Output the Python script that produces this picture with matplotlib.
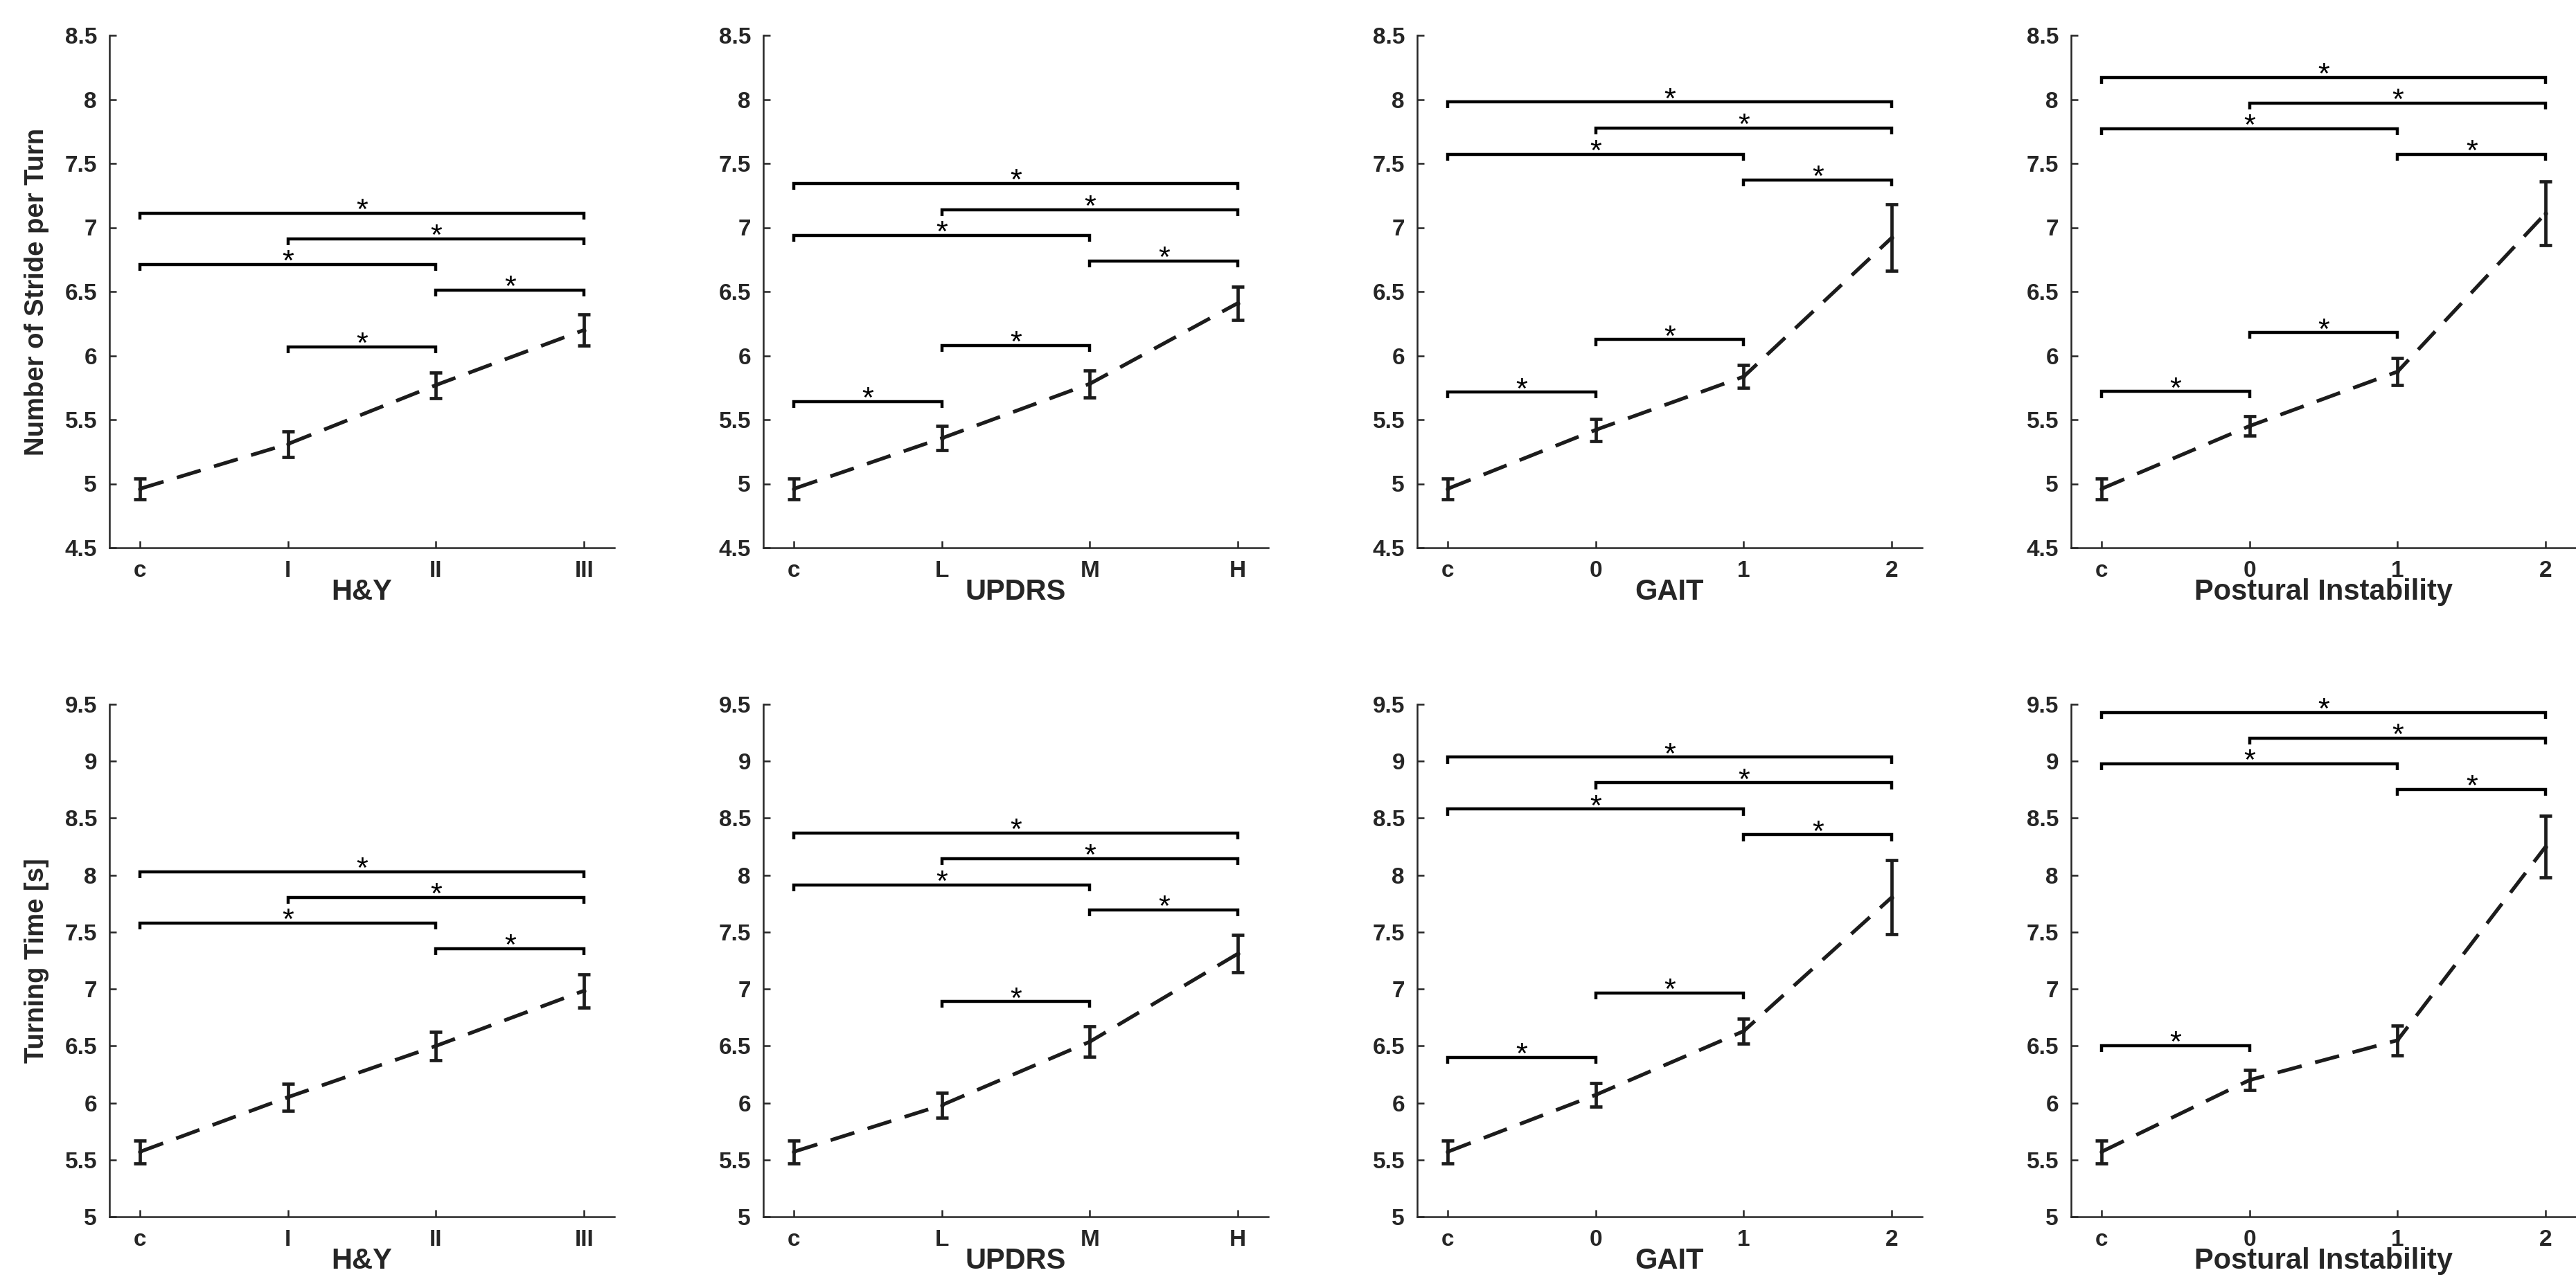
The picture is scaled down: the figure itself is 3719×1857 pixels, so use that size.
import matplotlib
matplotlib.use("Agg")
import matplotlib.pyplot as plt
import numpy as np

# ---------------- data ----------------
x_hy = ['c', 'I', 'II', 'III']
x_updrs = ['c', 'L', 'M', 'H']
x_gait = ['c', '0', '1', '2']
x_pi = ['c', '0', '1', '2']
xlabels = ['H&Y', 'UPDRS', 'GAIT', 'Postural Instability']

# Row 1: Number of Stride per Turn
stride_hy_mean = [4.96, 5.31, 5.77, 6.20]
stride_hy_err = [0.08, 0.10, 0.10, 0.12]
stride_updrs_mean = [4.96, 5.355, 5.78, 6.41]
stride_updrs_err = [0.08, 0.094, 0.105, 0.13]
stride_gait_mean = [4.96, 5.42, 5.836, 6.92]
stride_gait_err = [0.08, 0.087, 0.089, 0.26]
stride_pi_mean = [4.96, 5.45, 5.875, 7.11]
stride_pi_err = [0.08, 0.076, 0.105, 0.25]

stride_hy_pairs = [(0, 3), (1, 3), (0, 2), (2, 3), (1, 2)]
stride_hy_levels = [7.11, 6.91, 6.71, 6.51, 6.07]
stride_updrs_pairs = [(0, 3), (1, 3), (0, 2), (2, 3), (1, 2), (0, 1)]
stride_updrs_levels = [7.345, 7.14, 6.94, 6.74, 6.08, 5.64]
stride_gait_pairs = [(0, 3), (1, 3), (0, 2), (2, 3), (1, 2), (0, 1)]
stride_gait_levels = [7.98, 7.775, 7.57, 7.37, 6.125, 5.715]
stride_pi_pairs = [(0, 3), (1, 3), (0, 2), (2, 3), (1, 2), (0, 1)]
stride_pi_levels = [8.17, 7.97, 7.77, 7.57, 6.18, 5.72]

# Row 2: Turning Time [s]
time_hy_mean = [5.57, 6.05, 6.50, 6.985]
time_hy_err = [0.10, 0.118, 0.126, 0.146]
time_updrs_mean = [5.57, 5.98, 6.537, 7.31]
time_updrs_err = [0.10, 0.11, 0.135, 0.162]
time_gait_mean = [5.57, 6.07, 6.63, 7.805]
time_gait_err = [0.10, 0.104, 0.107, 0.326]
time_pi_mean = [5.57, 6.20, 6.55, 8.25]
time_pi_err = [0.10, 0.087, 0.131, 0.273]

time_hy_pairs = [(0, 3), (1, 3), (0, 2), (2, 3)]
time_hy_levels = [8.03, 7.805, 7.58, 7.355]
time_updrs_pairs = [(0, 3), (1, 3), (0, 2), (2, 3), (1, 2)]
time_updrs_levels = [8.37, 8.145, 7.915, 7.695, 6.89]
time_gait_pairs = [(0, 3), (1, 3), (0, 2), (2, 3), (1, 2), (0, 1)]
time_gait_levels = [9.035, 8.81, 8.58, 8.355, 6.965, 6.40]
time_pi_pairs = [(0, 3), (1, 3), (0, 2), (2, 3), (0, 1)]
time_pi_levels = [9.43, 9.205, 8.98, 8.755, 6.505]

stride_yticks = [4.5, 5, 5.5, 6, 6.5, 7, 7.5, 8, 8.5]
time_yticks = [5, 5.5, 6, 6.5, 7, 7.5, 8, 8.5, 9, 9.5]
ylabels = ['Number of Stride per Turn', 'Turning Time [s]']

# ---------------- style ----------------
TXT = '#262626'
LINE = '#1c1c1c'
FONT = ['Liberation Sans', 'DejaVu Sans']
plt.rcParams['font.family'] = FONT

fig = plt.figure(figsize=(37.19, 18.57), dpi=100)
W, H = 3719.0, 1857.0
col_left = [158, 1102, 2046, 2990]
ax_w = 729
row_top = [51, 1017]
ax_h = 740

rows = [
    dict(means=[stride_hy_mean, stride_updrs_mean, stride_gait_mean, stride_pi_mean],
         errs=[stride_hy_err, stride_updrs_err, stride_gait_err, stride_pi_err],
         pairs=[stride_hy_pairs, stride_updrs_pairs, stride_gait_pairs, stride_pi_pairs],
         levels=[stride_hy_levels, stride_updrs_levels, stride_gait_levels, stride_pi_levels],
         yticks=stride_yticks),
    dict(means=[time_hy_mean, time_updrs_mean, time_gait_mean, time_pi_mean],
         errs=[time_hy_err, time_updrs_err, time_gait_err, time_pi_err],
         pairs=[time_hy_pairs, time_updrs_pairs, time_gait_pairs, time_pi_pairs],
         levels=[time_hy_levels, time_updrs_levels, time_gait_levels, time_pi_levels],
         yticks=time_yticks),
]
xcats = [x_hy, x_updrs, x_gait, x_pi]

for r, row in enumerate(rows):
    for c in range(4):
        ax = fig.add_axes([col_left[c] / W, 1 - (row_top[r] + ax_h) / H, ax_w / W, ax_h / H])
        cats = xcats[c]
        xs = np.arange(len(cats))
        yt = row['yticks']
        ymin, ymax = yt[0], yt[-1]
        ax.set_xlim(-0.205, len(cats) - 1 + 0.205)
        ax.set_ylim(ymin, ymax)

        ax.errorbar(xs, row['means'][c], yerr=row['errs'][c], color=LINE,
                    linestyle=(0, (6.8, 3.8)), linewidth=3.8, elinewidth=3.4,
                    capsize=6.5, capthick=3.4, marker='o', markersize=3.5, zorder=3)

        dd = 0.0125 * (ymax - ymin)
        for (i, j), lev in zip(row['pairs'][c], row['levels'][c]):
            ax.plot([xs[i], xs[i], xs[j], xs[j]], [lev - dd, lev, lev, lev - dd],
                    color='black', linewidth=3.2, solid_joinstyle='miter',
                    solid_capstyle='butt', zorder=4)
            ax.annotate('*', xy=((xs[i] + xs[j]) / 2, lev), xytext=(0, -6),
                        textcoords='offset points', ha='center', va='baseline',
                        fontsize=31, color='black', zorder=5, family=FONT)

        ax.set_xticks(xs)
        ax.set_xticklabels(cats)
        ax.set_yticks(yt)
        ax.set_yticklabels(['%g' % v for v in yt])
        for s in ['top', 'right']:
            ax.spines[s].set_visible(False)
        for s in ['left', 'bottom']:
            ax.spines[s].set_linewidth(1.8)
            ax.spines[s].set_color(TXT)
        ax.tick_params(direction='in', length=7, width=1.8, color=TXT,
                       labelsize=24, labelcolor=TXT, pad=13)
        for lab in ax.get_xticklabels() + ax.get_yticklabels():
            lab.set_fontweight('bold')
        ax.set_xlabel(xlabels[c], fontsize=30, fontweight='bold', color=TXT)
        ax.xaxis.set_label_coords(0.5, -0.06)
        if c == 0:
            ax.set_ylabel(ylabels[r], fontsize=27.5, fontweight='bold', color=TXT)
            ax.yaxis.set_label_coords(-0.12, 0.5)
        ax.set_facecolor('white')

fig.savefig('out.png', dpi=100, facecolor='white')
